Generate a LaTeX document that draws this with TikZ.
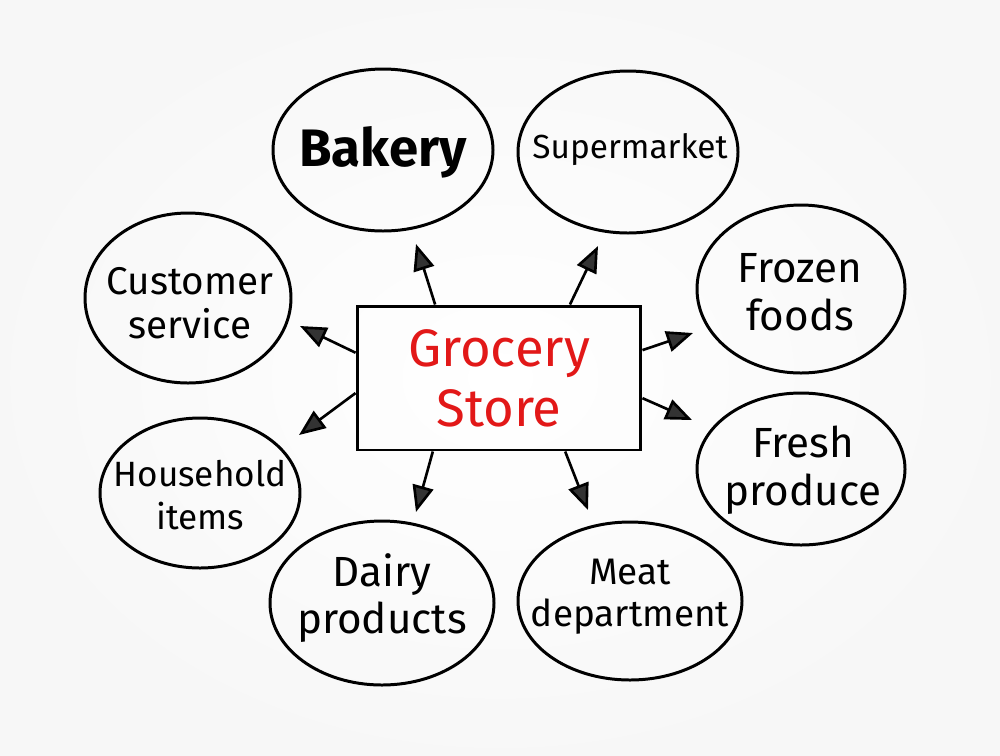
\documentclass[tikz,border=0pt]{standalone}
\usepackage{fontspec}
\setmainfont{Fira Sans}
\usepackage{tikz}
\usepackage{xcolor}
\usetikzlibrary{arrows.meta}
\definecolor{grocred}{RGB}{226,24,24}

\begin{document}
\begin{tikzpicture}[x=0.02cm, y=-0.02cm,
	bubble/.style={line width=1.7pt},
	word/.style={align=center, inner sep=0pt},
	spoke/.style={line width=1.5pt, -{Triangle[length=15pt, width=12pt, fill=black!80]}}]
	
		% Background with a soft grey edge
		\useasboundingbox (0,0) rectangle (1000,755);
		\shade[inner color=white, outer color=black!3] (0,0) rectangle (1000,755);
		
		% Central box
		\node[draw, line width=1.7pt, minimum width=5.68cm, minimum height=2.88cm,
		      text=grocred, align=center, font=\fontsize{30}{34}\selectfont] (store) at (499,378) {Grocery\\Store};
		
		% Ends of the arrows
		\coordinate (tipbakery) at (416,244);
		\coordinate (tipsuper) at (598,246);
		\coordinate (tipservice) at (300,326);
		\coordinate (tipfrozen) at (693,333);
		\coordinate (tiphouse) at (299,435);
		\coordinate (tipfresh) at (692,420);
		\coordinate (tipdairy) at (416,512);
		\coordinate (tipmeat) at (588,510);
		
		% Arrows out of the box
		\draw[spoke] (store.131) -- (tipbakery); % up left
		\draw[spoke] (store.46) -- (tipsuper); % up right
		\draw[spoke] (store.170) -- (tipservice); % left, upper
		\draw[spoke] (store.11) -- (tipfrozen); % right, upper
		\draw[spoke] (store.186) -- (tiphouse); % left, lower
		\draw[spoke] (store.352) -- (tipfresh); % right, lower
		\draw[spoke] (store.228) -- (tipdairy); % down left
		\draw[spoke] (store.312) -- (tipmeat); % down right
		
		% Top row
		\draw[bubble] (383,150) ellipse [x radius=110, y radius=81];
		\node[word, font=\bfseries\fontsize{30}{30}\selectfont] (bakery) at (383,152) {Bakery};
		\draw[bubble] (628,152) ellipse [x radius=110, y radius=81];
		\node[word, font=\fontsize{19}{19}\selectfont] (super) at (630,150) {Supermarket};
		
		% Second row
		\draw[bubble] (188,298) ellipse [x radius=103, y radius=85];
		\node[word, font=\fontsize{22}{25}\selectfont] (service) at (190,303) {Customer\\service};
		\draw[bubble] (801,289) ellipse [x radius=104, y radius=84];
		\node[word, font=\fontsize{24}{27}\selectfont] (frozen) at (800,292) {Frozen\\foods};
		
		% Third row
		\draw[bubble] (200,493) ellipse [x radius=100, y radius=75];
		\node[word, font=\fontsize{20}{24}\selectfont] (house) at (200,495) {Household\\items};
		\draw[bubble] (801,469) ellipse [x radius=104, y radius=76];
		\node[word, font=\fontsize{24}{27}\selectfont] (fresh) at (803,470) {Fresh\\produce};
		
		% Bottom row
		\draw[bubble] (382,603) ellipse [x radius=112, y radius=82];
		\node[word, font=\fontsize{24}{27}\selectfont] (dairy) at (382,598) {Dairy\\products};
		\draw[bubble] (630,601) ellipse [x radius=112, y radius=79];
		\node[word, font=\fontsize{21}{24}\selectfont] (meat) at (630,597) {Meat\\department};
	\end{tikzpicture}
\end{document}
